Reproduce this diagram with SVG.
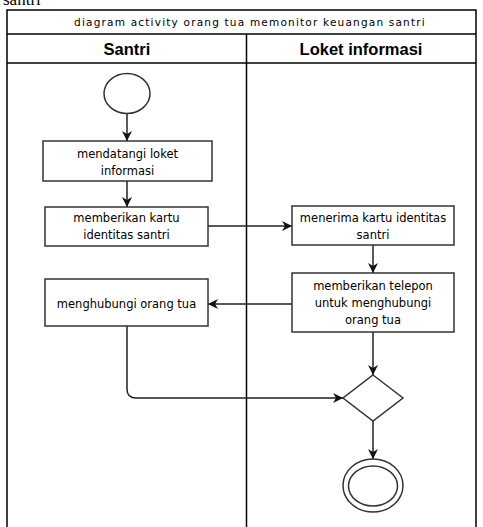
<svg xmlns="http://www.w3.org/2000/svg" width="483" height="527" viewBox="0 0 483 527">
<style>
.frame{fill:none;stroke:#000;stroke-width:1.5}
.box{fill:#fff;stroke:#333;stroke-width:1.5}
.t{font-family:"DejaVu Sans",Verdana,sans-serif;font-size:11.5px;fill:#000;text-anchor:middle}
.hd{font-family:"Liberation Sans",Arial,sans-serif;font-size:16.5px;font-weight:bold;fill:#000;text-anchor:middle}
.ti{font-family:"DejaVu Sans",Verdana,sans-serif;font-size:10.5px;fill:#000;text-anchor:middle;letter-spacing:1.2px}
.c{fill:none;stroke:#222;stroke-width:1.5}
</style>
<defs>
<marker id="a" viewBox="0 0 10 10" refX="10" refY="5" markerWidth="10" markerHeight="10" markerUnits="userSpaceOnUse" orient="auto">
<path d="M0,0 L10,5 L0,10 L3,5 Z" fill="#111"/>
</marker>
</defs>
<text x="3" y="5" font-family="Liberation Serif,serif" font-size="17" fill="#000">santri</text>
<g id="frame">
<rect class="frame" x="7" y="10" width="469" height="530"/>
<line class="frame" x1="7" y1="34" x2="476" y2="34"/>
<line class="frame" x1="7" y1="63" x2="476" y2="63"/>
<line class="frame" x1="246.5" y1="34" x2="246.5" y2="527"/>
<text class="ti" x="250" y="26">diagram activity orang tua memonitor keuangan santri</text>
<text class="hd" x="127" y="55">Santri</text>
<text class="hd" x="361" y="55">Loket informasi</text>
</g>
<g id="connectors">
<line class="c" x1="127" y1="113" x2="127" y2="141" marker-end="url(#a)"/>
<line class="c" x1="127" y1="181" x2="127" y2="207" marker-end="url(#a)"/>
<line class="c" x1="208" y1="226" x2="292" y2="226" marker-end="url(#a)"/>
<line class="c" x1="373" y1="245" x2="373" y2="273" marker-end="url(#a)"/>
<line class="c" x1="292" y1="304" x2="208" y2="304" marker-end="url(#a)"/>
<path class="c" d="M127,326 L127,389 Q127,398 136,398 L343,398" marker-end="url(#a)"/>
<line class="c" x1="373" y1="332" x2="373" y2="375" marker-end="url(#a)"/>
<line class="c" x1="373" y1="421" x2="373" y2="459" marker-end="url(#a)"/>
</g>
<g id="start">
<ellipse cx="127" cy="93.5" rx="23" ry="20" fill="#fff" stroke="#333" stroke-width="1.5"/>
</g>
<g id="n1">
<rect class="box" x="43" y="141" width="169" height="40"/>
<text class="t" x="127.5" y="158">mendatangi loket</text>
<text class="t" x="127.5" y="175">informasi</text>
</g>
<g id="n2">
<rect class="box" x="45" y="207" width="163" height="39"/>
<text class="t" x="126.5" y="222">memberikan kartu</text>
<text class="t" x="126.5" y="239">identitas santri</text>
</g>
<g id="n3">
<rect class="box" x="292" y="206" width="162" height="39"/>
<text class="t" x="373" y="222">menerima kartu identitas</text>
<text class="t" x="373" y="239">santri</text>
</g>
<g id="n4">
<rect class="box" x="292" y="273" width="162" height="59"/>
<text class="t" x="373" y="290">memberikan telepon</text>
<text class="t" x="373" y="307">untuk menghubungi</text>
<text class="t" x="373" y="324">orang tua</text>
</g>
<g id="n5">
<rect class="box" x="45" y="279" width="163" height="47"/>
<text class="t" x="126.5" y="308">menghubungi orang tua</text>
</g>
<g id="decision">
<polygon points="373,375 403,398 373,421 343,398" fill="#fff" stroke="#333" stroke-width="1.5"/>
</g>
<g id="end">
<ellipse cx="373" cy="485.5" rx="30" ry="26.5" fill="#fff" stroke="#333" stroke-width="1.5"/>
<ellipse cx="373" cy="486" rx="24.5" ry="20" fill="none" stroke="#333" stroke-width="1.5"/>
</g>
</svg>
